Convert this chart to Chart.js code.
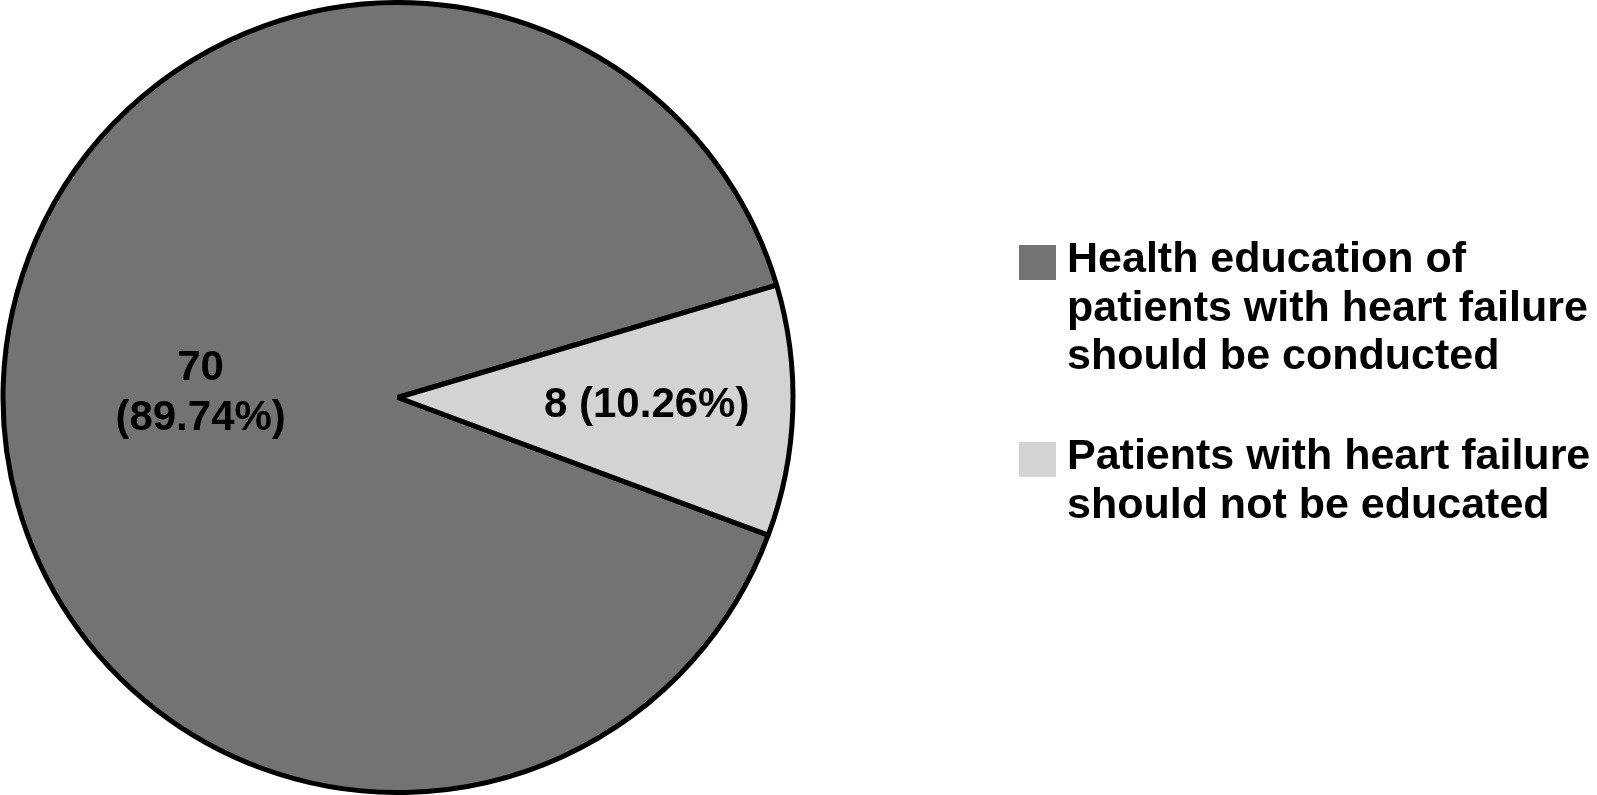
<!DOCTYPE html>
<html lang="en">
<head>
    <meta charset="UTF-8">
    <title>Health education of patients with heart failure</title>
    <style>
        body {
            margin: 0;
            background: #ffffff;
        }
        .wrap {
            position: relative;
            width: 1597px;
            height: 795px;
        }
    </style>
    <script src="https://cdn.jsdelivr.net/npm/chart.js"></script>
</head>
<body>
    <div class="wrap">
        <canvas id="pieChart"></canvas>
    </div>

    <script>
        // Chart data
        const categories = [
            ['Health education of', 'patients with heart failure', 'should be conducted'],
            ['Patients with heart failure', 'should not be educated']
        ];
        const counts = [70, 8];
        const percentLabels = ['89.74%', '10.26%'];
        const sliceColors = ['#737373', '#d3d3d3'];

        const FONT = 'bold 42px "Liberation Sans", Arial, sans-serif';
        const LEGEND_FONT = 'bold 43px "Liberation Sans", Arial, sans-serif';

        // Labels inside the slices
        const sliceLabels = {
            id: 'sliceLabels',
            afterDatasetsDraw(chart) {
                const ctx = chart.ctx;
                const arcs = chart.getDatasetMeta(0).data;
                ctx.save();
                ctx.font = FONT;
                ctx.fillStyle = '#000000';
                ctx.textAlign = 'center';
                ctx.textBaseline = 'middle';
                arcs.forEach((arc, i) => {
                    const p = arc.getProps(['x', 'y', 'startAngle', 'endAngle', 'outerRadius'], true);
                    const mid = (p.startAngle + p.endAngle) / 2;
                    if (i === 0) {
                        const r = p.outerRadius * 0.5;
                        const cx = p.x + Math.cos(mid) * r;
                        const cy = p.y + Math.sin(mid) * r;
                        ctx.fillText(String(counts[i]), cx, cy - 22);
                        ctx.fillText('(' + percentLabels[i] + ')', cx, cy + 28);
                    } else {
                        const r = p.outerRadius * 0.63;
                        const cx = p.x + Math.cos(mid) * r;
                        const cy = p.y + Math.sin(mid) * r;
                        ctx.fillText(counts[i] + ' (' + percentLabels[i] + ')', cx, cy);
                    }
                });
                ctx.restore();
            }
        };

        // Legend on the right, multi-line entries
        const sideLegend = {
            id: 'sideLegend',
            afterDraw(chart, args, opts) {
                const ctx = chart.ctx;
                ctx.save();
                ctx.font = LEGEND_FONT;
                ctx.textAlign = 'left';
                ctx.textBaseline = 'alphabetic';
                let y = opts.top;
                categories.forEach((lines, i) => {
                    ctx.fillStyle = sliceColors[i];
                    ctx.fillRect(opts.left, y - 27, 37, 35);
                    ctx.fillStyle = '#000000';
                    lines.forEach((line, j) => {
                        ctx.fillText(line, opts.left + 48, y + j * opts.lineHeight);
                    });
                    y += (lines.length - 1) * opts.lineHeight + opts.groupGap;
                });
                ctx.restore();
            }
        };

        const ctx = document.getElementById('pieChart').getContext('2d');
        new Chart(ctx, {
            type: 'pie',
            data: {
                labels: categories.map(l => l.join(' ')),
                datasets: [{
                    data: counts,
                    backgroundColor: sliceColors,
                    borderColor: '#000000',
                    borderWidth: 5
                }]
            },
            options: {
                responsive: true,
                maintainAspectRatio: false,
                animation: false,
                rotation: 110.4,
                layout: {
                    padding: { left: 0, top: 0, bottom: 0, right: 801 }
                },
                plugins: {
                    legend: { display: false },
                    tooltip: { enabled: false },
                    sideLegend: {
                        left: 1019,
                        top: 272,
                        lineHeight: 48.5,
                        groupGap: 100
                    }
                }
            },
            plugins: [sliceLabels, sideLegend]
        });
    </script>
</body>
</html>
